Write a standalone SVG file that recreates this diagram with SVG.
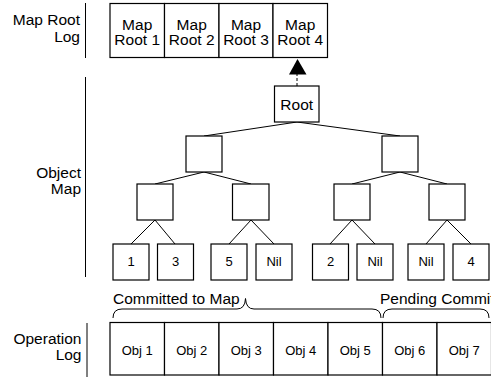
<svg xmlns="http://www.w3.org/2000/svg" width="491" height="377" viewBox="0 0 491 377">
<defs>
<style>
.box{fill:#fff;stroke:#000;stroke-width:1.2}
.ln{stroke:#000;stroke-width:1;fill:none}
.lbl{font-family:"Liberation Sans",Arial,sans-serif;font-size:15.5px;fill:#000}
.bt{font-family:"Liberation Sans",Arial,sans-serif;font-size:15.5px;fill:#000;text-anchor:middle}
.st{font-family:"Liberation Sans",Arial,sans-serif;font-size:13px;fill:#000;text-anchor:middle}
</style>
</defs>
<rect width="491" height="377" fill="#fff"/>
<g id="labels">
<text class="lbl" text-anchor="end"><tspan x="80" y="25">Map Root</tspan><tspan x="80" y="42">Log</tspan></text>
<text class="lbl" text-anchor="end"><tspan x="81" y="178">Object</tspan><tspan x="81" y="194">Map</tspan></text>
<text class="lbl" text-anchor="end"><tspan x="81.5" y="344">Operation</tspan><tspan x="81.5" y="360">Log</tspan></text>
<line class="ln" x1="85.5" y1="3" x2="85.5" y2="58"/>
<line class="ln" x1="85.5" y1="77" x2="85.5" y2="277"/>
<line class="ln" x1="87" y1="323" x2="87" y2="377"/>
</g>
<g id="connectors">
<line class="ln" x1="297" y1="86" x2="297" y2="74" stroke-dasharray="3,2"/>
<polygon points="297.5,59 289,74.5 306.5,74.5" fill="#000"/>
<line class="ln" x1="297" y1="122" x2="204" y2="136"/>
<line class="ln" x1="297" y1="122" x2="400" y2="136"/>
<line class="ln" x1="204" y1="172" x2="155" y2="184"/>
<line class="ln" x1="204" y1="172" x2="251" y2="184"/>
<line class="ln" x1="400" y1="172" x2="352" y2="184"/>
<line class="ln" x1="400" y1="172" x2="447" y2="184"/>
<line class="ln" x1="155" y1="220" x2="131" y2="244"/>
<line class="ln" x1="155" y1="220" x2="175" y2="244"/>
<line class="ln" x1="251" y1="220" x2="229" y2="244"/>
<line class="ln" x1="251" y1="220" x2="274" y2="244"/>
<line class="ln" x1="352" y1="220" x2="330" y2="244"/>
<line class="ln" x1="352" y1="220" x2="375" y2="244"/>
<line class="ln" x1="447" y1="220" x2="426" y2="244"/>
<line class="ln" x1="447" y1="220" x2="471" y2="244"/>
<path class="ln" d="M113,318 Q113,309 122,309 L237,309 Q245,309 245.5,298.5 Q246,309 254,309 L372,309 Q381,309 381,318"/>
<path class="ln" d="M383,318 Q383,309 392,309 L480,309 Q489,309 489,318"/>
</g>
<g id="maproot-log">
<g id="mr1"><rect class="box" x="110" y="3.5" width="54.5" height="54"/><text class="bt"><tspan x="137.2" y="29.5">Map</tspan><tspan x="137.2" y="45">Root 1</tspan></text></g>
<g id="mr2"><rect class="box" x="164.5" y="3.5" width="54.5" height="54"/><text class="bt"><tspan x="191.7" y="29.5">Map</tspan><tspan x="191.7" y="45">Root 2</tspan></text></g>
<g id="mr3"><rect class="box" x="219" y="3.5" width="54" height="54"/><text class="bt"><tspan x="246" y="29.5">Map</tspan><tspan x="246" y="45">Root 3</tspan></text></g>
<g id="mr4"><rect class="box" x="273" y="3.5" width="54.5" height="54"/><text class="bt"><tspan x="300.2" y="29.5">Map</tspan><tspan x="300.2" y="45">Root 4</tspan></text></g>
</g>
<g id="root"><rect class="box" x="274.5" y="86" width="44.5" height="36"/><text class="bt" x="296.7" y="110">Root</text></g>
<g id="n-l"><rect class="box" x="186" y="136" width="36" height="36"/></g>
<g id="n-r"><rect class="box" x="382" y="136" width="36" height="36"/></g>
<g id="n-ll"><rect class="box" x="137" y="184" width="36" height="36"/></g>
<g id="n-lr"><rect class="box" x="232.5" y="184" width="36.5" height="36"/></g>
<g id="n-rl"><rect class="box" x="334" y="184" width="36" height="36"/></g>
<g id="n-rr"><rect class="box" x="429" y="184" width="36" height="36"/></g>
<g id="leaf1"><rect class="box" x="113" y="244" width="36" height="36"/><text class="st" x="131" y="266">1</text></g>
<g id="leaf3"><rect class="box" x="157.5" y="244" width="36" height="36"/><text class="st" x="175.5" y="266">3</text></g>
<g id="leaf5"><rect class="box" x="211" y="244" width="36" height="36"/><text class="st" x="229" y="266">5</text></g>
<g id="leafnil1"><rect class="box" x="256" y="244" width="36" height="36"/><text class="st" x="274" y="266">Nil</text></g>
<g id="leaf2"><rect class="box" x="312.5" y="244" width="36" height="36"/><text class="st" x="330.5" y="266">2</text></g>
<g id="leafnil2"><rect class="box" x="357" y="244" width="36" height="36"/><text class="st" x="375" y="266">Nil</text></g>
<g id="leafnil3"><rect class="box" x="408" y="244" width="36" height="36"/><text class="st" x="426" y="266">Nil</text></g>
<g id="leaf4"><rect class="box" x="453" y="244" width="36" height="36"/><text class="st" x="471" y="266">4</text></g>
<g id="braces-text">
<text class="lbl" x="113" y="304" font-size="15.3">Committed to Map</text>
<text class="lbl" x="380" y="304" font-size="15.3">Pending Commit</text>
</g>
<g id="operation-log">
<g id="obj1"><rect class="box" x="110" y="322.5" width="54.5" height="52.5"/><text class="st" x="137.2" y="355">Obj 1</text></g>
<g id="obj2"><rect class="box" x="164.5" y="322.5" width="54.5" height="52.5"/><text class="st" x="191.7" y="355">Obj 2</text></g>
<g id="obj3"><rect class="box" x="219" y="322.5" width="54.5" height="52.5"/><text class="st" x="246.2" y="355">Obj 3</text></g>
<g id="obj4"><rect class="box" x="273.5" y="322.5" width="54.5" height="52.5"/><text class="st" x="300.7" y="355">Obj 4</text></g>
<g id="obj5"><rect class="box" x="328" y="322.5" width="54.5" height="52.5"/><text class="st" x="355.2" y="355">Obj 5</text></g>
<g id="obj6"><rect class="box" x="382.5" y="322.5" width="54.5" height="52.5"/><text class="st" x="409.7" y="355">Obj 6</text></g>
<g id="obj7"><rect class="box" x="437" y="322.5" width="54.5" height="52.5"/><text class="st" x="464.2" y="355">Obj 7</text></g>
</g>
</svg>
